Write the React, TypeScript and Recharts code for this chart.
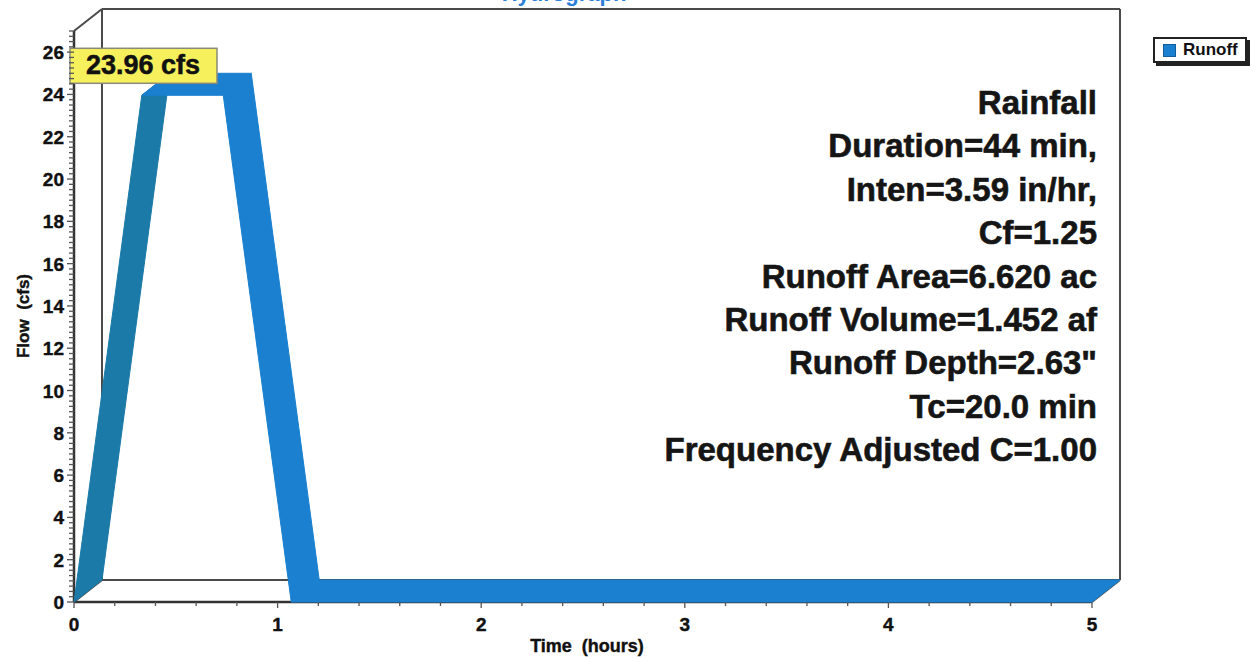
import React from "react";
import { LineChart, Line, XAxis, YAxis, ReferenceLine } from "recharts";

// runoff hydrograph (modified rational method)
const timeHours = [0, 0.333, 0.733, 1.067, 5];
const flowCfs = [0, 23.96, 23.96, 0, 0];

const xTicks = [0, 1, 2, 3, 4, 5];
const yTicks = [0, 2, 4, 6, 8, 10, 12, 14, 16, 18, 20, 22, 24, 26];
const xMinorTicks = Array.from({ length: 26 }, (_, i) => Math.round(i * 2) / 10);
const yMinorTicks = Array.from({ length: 109 }, (_, i) => i / 4);

const seriesName = "Runoff";
const peakLabel = "23.96 cfs";
const chartTitle = "Hydrograph";
const noteLines = [
  "Rainfall",
  "Duration=44 min,",
  "Inten=3.59 in/hr,",
  "Cf=1.25",
  "Runoff Area=6.620 ac",
  "Runoff Volume=1.452 af",
  'Runoff Depth=2.63"',
  "Tc=20.0 min",
  "Frequency Adjusted C=1.00",
];

const data = timeHours.map((t, i) => ({ time: t, flow: flowCfs[i] }));

const W = 1253;
const H = 658;
const FONT = "'Liberation Sans', Arial, Helvetica, sans-serif";
const BLUE = "#1a80cf";
const BLUE_DARK = "#1b7aa8";
const FRAME = "#4a4a4a";

// 3D depth of the box, in pixels and in axis units
const DEPTH = { dx: 28, dy: -22 };
const DX_H = 0.1375;
const DY_CFS = 1.04;
const X_MAX = 5;
const Y_MAX = 27;

function YTick(props: any) {
  const { x, y, payload } = props;
  const v = payload.value;
  const major = yTicks.some((t) => Math.abs(t - v) < 1e-6);
  return (
    <g>
      <line x1={x - (major ? 7 : 5)} x2={x} y1={y} y2={y} stroke="#555" strokeWidth={1.3} />
      {major && (
        <text x={x - 10} y={y} dy={7} textAnchor="end" fontSize={19} fontWeight="bold" fill="#111"
          stroke="#111" strokeWidth={0.4} fontFamily={FONT}>
          {v}
        </text>
      )}
    </g>
  );
}

function XTick(props: any) {
  const { x, y, payload } = props;
  const v = payload.value;
  const major = xTicks.some((t) => Math.abs(t - v) < 1e-6);
  return (
    <g>
      <line x1={x} x2={x} y1={y} y2={y + (major ? 6 : 4)} stroke="#555" strokeWidth={1.3} />
      {major && (
        <text x={x} y={y + 29} textAnchor="middle" fontSize={19} fontWeight="bold" fill="#111"
          stroke="#111" strokeWidth={0.4} fontFamily={FONT}>
          {v}
        </text>
      )}
    </g>
  );
}

let collected: { x: number; y: number }[] = [];

// draws the extruded ribbon once all points are known (on the last dot)
function RibbonDot(props: any) {
  const { index, cx, cy } = props;
  collected[index] = { x: cx, y: cy };
  if (index !== data.length - 1) return <g key={`rib-${index}`} />;
  const pts: { x: number; y: number }[] =
    props.points && props.points.length === data.length ? props.points : collected;

  const faces = [];
  for (let i = 0; i < pts.length - 1; i++) {
    const a = pts[i];
    const b = pts[i + 1];
    const rising = b.y < a.y - 0.5;
    const poly = [
      [a.x, a.y],
      [b.x, b.y],
      [b.x + DEPTH.dx, b.y + DEPTH.dy],
      [a.x + DEPTH.dx, a.y + DEPTH.dy],
    ]
      .map((p) => p.join(","))
      .join(" ");
    faces.push({ poly, rising, i });
  }
  faces.sort((f, g) => Number(g.rising) - Number(f.rising));

  let peak = pts[0];
  pts.forEach((p) => {
    if (p.y < peak.y) peak = p;
  });
  const bx = pts[0].x - 4;
  const by = peak.y - 47;

  return (
    <g key="ribbon">
      {faces.map((f) => (
        <polygon
          key={f.i}
          points={f.poly}
          fill={f.rising ? BLUE_DARK : BLUE}
          stroke={f.rising ? BLUE_DARK : BLUE}
          strokeWidth={1}
          strokeLinejoin="round"
        />
      ))}
      <rect x={bx} y={by} width={147} height={35} fill="#f6f05c" stroke="#8a8a7a" strokeWidth={1.5} />
      <text x={bx + 73} y={by + 26} textAnchor="middle" fontSize={27} fontWeight="bold" fill="#111"
        stroke="#111" strokeWidth={0.5} fontFamily={FONT}>
        {peakLabel}
      </text>
    </g>
  );
}

const backWall = [
  [[DX_H, Y_MAX + DY_CFS], [X_MAX + DX_H, Y_MAX + DY_CFS]],
  [[DX_H, DY_CFS], [X_MAX + DX_H, DY_CFS]],
  [[DX_H, DY_CFS], [DX_H, Y_MAX + DY_CFS]],
  [[X_MAX + DX_H, DY_CFS], [X_MAX + DX_H, Y_MAX + DY_CFS]],
  [[0, Y_MAX], [DX_H, Y_MAX + DY_CFS]],
  [[0, 0], [DX_H, DY_CFS]],
  [[X_MAX, 0], [X_MAX + DX_H, DY_CFS]],
];

export default function App() {
  collected = [];
  return (
    <div style={{ position: "absolute", left: 0, top: 0, width: W, height: H, background: "#fff", overflow: "hidden" }}>
      <LineChart width={W} height={H} data={data} margin={{ top: 31, right: 161, bottom: 0, left: 0 }}>
        <XAxis
          type="number"
          dataKey="time"
          domain={[0, X_MAX]}
          ticks={xMinorTicks}
          interval={0}
          height={56}
          tickSize={0}
          tickMargin={0}
          tickLine={false}
          axisLine={{ stroke: "#333", strokeWidth: 2.5 }}
          tick={(p: any) => <XTick {...p} />}
        />
        <YAxis
          type="number"
          domain={[0, Y_MAX]}
          ticks={yMinorTicks}
          interval={0}
          width={74}
          tickSize={0}
          tickMargin={0}
          tickLine={false}
          axisLine={{ stroke: "#333", strokeWidth: 2.5 }}
          tick={(p: any) => <YTick {...p} />}
        />
        {backWall.map((seg, i) => (
          <ReferenceLine
            key={i}
            segment={[
              { x: seg[0][0], y: seg[0][1] },
              { x: seg[1][0], y: seg[1][1] },
            ]}
            ifOverflow="visible"
            stroke={FRAME}
            strokeWidth={2}
          />
        ))}
        <Line
          type="linear"
          dataKey="flow"
          name={seriesName}
          stroke="none"
          dot={RibbonDot}
          activeDot={false}
          isAnimationActive={false}
        />
      </LineChart>

      <svg width={W} height={H} style={{ position: "absolute", left: 0, top: 0, pointerEvents: "none" }}>
        {/* title sits mostly above the visible area, as in the scan */}
        <text x={564} y={1} textAnchor="middle" fontSize={22} fontWeight="bold" fill="#2b80d6" fontFamily={FONT}>
          {chartTitle}
        </text>
        {noteLines.map((s, i) => (
          <text
            key={s}
            x={1097}
            y={114 + i * 43.4}
            textAnchor="end"
            fontSize={33}
            fontWeight="bold"
            fill="#151515"
            stroke="#151515"
            strokeWidth={0.6}
            fontFamily={FONT}
          >
            {s}
          </text>
        ))}
        <text x={587} y={652} textAnchor="middle" fontSize={18} fontWeight="bold" fill="#111"
          stroke="#111" strokeWidth={0.4} fontFamily={FONT} style={{ whiteSpace: "pre" }}>
          {"Time  (hours)"}
        </text>
        <text
          x={29}
          y={316}
          transform="rotate(-90, 29, 316)"
          textAnchor="middle"
          fontSize={17}
          fontWeight="bold"
          fill="#111"
          stroke="#111"
          strokeWidth={0.4}
          fontFamily={FONT}
          style={{ whiteSpace: "pre" }}
        >
          {"Flow  (cfs)"}
        </text>
      </svg>

      <div
        style={{
          position: "absolute",
          left: 1153,
          top: 37,
          width: 90,
          height: 22,
          border: "2px solid #222",
          boxShadow: "3px 3px 0 #222",
          background: "#fff",
          display: "flex",
          alignItems: "center",
          fontFamily: FONT,
          fontWeight: "bold",
          fontSize: 17,
          color: "#111",
        }}
      >
        <span style={{ display: "inline-block", width: 11, height: 11, background: BLUE, border: "1px solid #145f9a", marginLeft: 8, marginRight: 7 }} />
        {seriesName}
      </div>
    </div>
  );
}
